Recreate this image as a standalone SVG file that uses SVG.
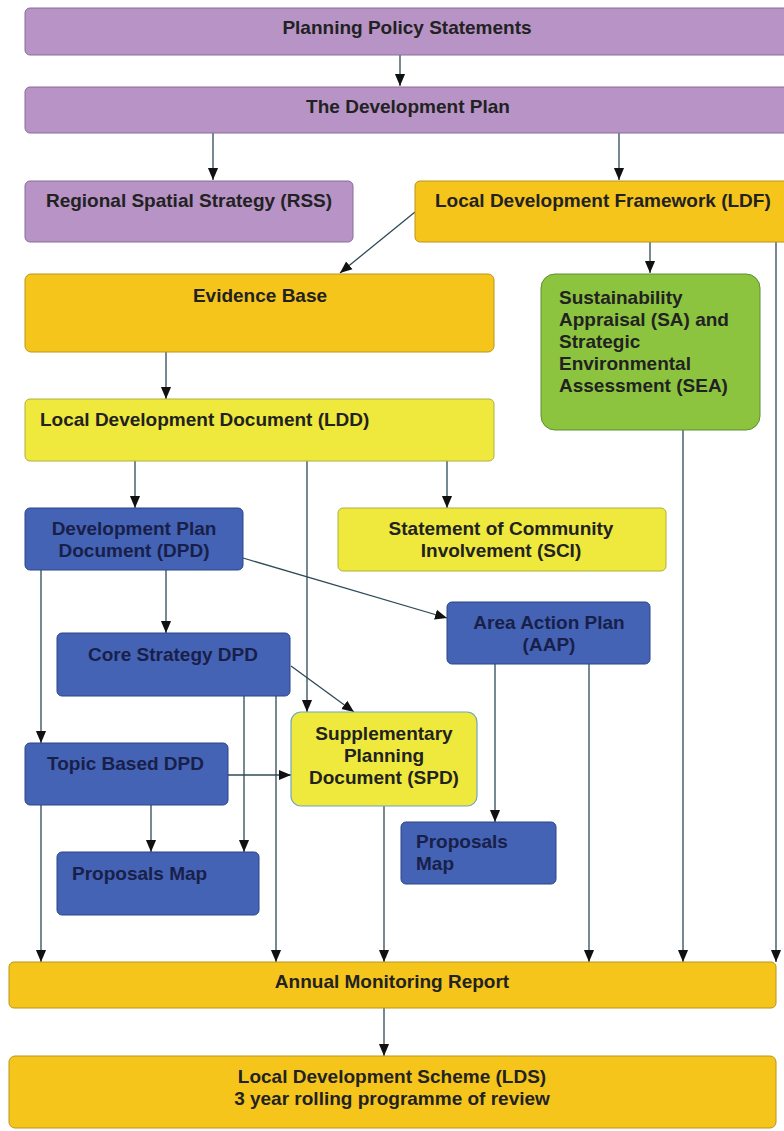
<svg xmlns="http://www.w3.org/2000/svg" width="784" height="1131" viewBox="0 0 784 1131">
<defs>
<marker id="ah" markerUnits="userSpaceOnUse" markerWidth="12" markerHeight="14" viewBox="0 0 13 12" refX="13" refY="6" orient="auto">
<path d="M0,0.5 L13,6 L0,11.5 Z" fill="#111"/>
</marker>
<style>
text{font-family:"Liberation Sans",Arial,sans-serif;font-weight:bold;font-size:19px;fill:#222}
.c{text-anchor:middle}
.bt{fill:#18204a}
.pu{fill:#B793C6;stroke:#8a6a9a;stroke-width:1}
.or{fill:#F5C51B;stroke:#b8961a;stroke-width:1}
.ye{fill:#EEE93C;stroke:#b0ae40;stroke-width:1}
.gr{fill:#8CC440;stroke:#5f8f2c;stroke-width:1}
.bl{fill:#4463B5;stroke:#2c4488;stroke-width:1}
.sp{fill:#EEE93C;stroke:#6fa8b8;stroke-width:1.2}
#edges line{stroke:#2d4a58;stroke-width:1.3;fill:none}
</style>
</defs>
<rect width="784" height="1131" fill="#fff"/>

<g id="edges">
<line x1="400" y1="55" x2="400" y2="86" marker-end="url(#ah)"/>
<line x1="213" y1="133" x2="213" y2="180" marker-end="url(#ah)"/>
<line x1="619" y1="133" x2="619" y2="180" marker-end="url(#ah)"/>
<line x1="415" y1="212" x2="340" y2="273" marker-end="url(#ah)"/>
<line x1="650" y1="242" x2="650" y2="273" marker-end="url(#ah)"/>
<line x1="776" y1="242" x2="776" y2="962" marker-end="url(#ah)"/>
<line x1="166" y1="352" x2="166" y2="399" marker-end="url(#ah)"/>
<line x1="135" y1="461" x2="135" y2="508" marker-end="url(#ah)"/>
<line x1="447" y1="461" x2="447" y2="508" marker-end="url(#ah)"/>
<line x1="307" y1="461" x2="307" y2="712" marker-end="url(#ah)"/>
<line x1="683" y1="430" x2="683" y2="962" marker-end="url(#ah)"/>
<line x1="41" y1="570" x2="41" y2="743" marker-end="url(#ah)"/>
<line x1="166" y1="570" x2="166" y2="633" marker-end="url(#ah)"/>
<line x1="243" y1="558" x2="447" y2="618" marker-end="url(#ah)"/>
<line x1="291" y1="666" x2="354" y2="712" marker-end="url(#ah)"/>
<line x1="244" y1="696" x2="244" y2="852" marker-end="url(#ah)"/>
<line x1="276" y1="696" x2="276" y2="962" marker-end="url(#ah)"/>
<line x1="228" y1="775" x2="291" y2="775" marker-end="url(#ah)"/>
<line x1="151" y1="805" x2="151" y2="852" marker-end="url(#ah)"/>
<line x1="41" y1="805" x2="41" y2="962" marker-end="url(#ah)"/>
<line x1="495" y1="664" x2="495" y2="822" marker-end="url(#ah)"/>
<line x1="589" y1="664" x2="589" y2="962" marker-end="url(#ah)"/>
<line x1="384" y1="806" x2="384" y2="962" marker-end="url(#ah)"/>
<line x1="384" y1="1008" x2="384" y2="1056" marker-end="url(#ah)"/>
</g>

<g id="pps"><rect class="pu" x="25" y="8" width="775" height="47" rx="5"/><text class="c" x="407" y="34">Planning Policy Statements</text></g>
<g id="tdp"><rect class="pu" x="25" y="87" width="775" height="46" rx="5"/><text class="c" x="408" y="113">The Development Plan</text></g>
<g id="rss"><rect class="pu" x="25" y="181" width="328" height="61" rx="5"/><text class="c" x="189" y="207">Regional Spatial Strategy (RSS)</text></g>
<g id="ldf"><rect class="or" x="415" y="181" width="385" height="61" rx="5"/><text x="435" y="207">Local Development Framework (LDF)</text></g>
<g id="eb"><rect class="or" x="25" y="274" width="469" height="78" rx="6"/><text class="c" x="260" y="302">Evidence Base</text></g>
<g id="sa"><rect class="gr" x="541" y="274" width="219" height="156" rx="14"/>
<text x="559" y="304">Sustainability</text>
<text x="559" y="326">Appraisal (SA) and</text>
<text x="559" y="348">Strategic</text>
<text x="559" y="370">Environmental</text>
<text x="559" y="392">Assessment (SEA)</text></g>
<g id="ldd"><rect class="ye" x="25" y="399" width="469" height="62" rx="5"/><text x="40" y="426">Local Development Document (LDD)</text></g>
<g id="dpd"><rect class="bl" x="25" y="508" width="218" height="62" rx="5"/><text class="c bt" x="134" y="535">Development Plan</text><text class="c bt" x="134" y="557">Document (DPD)</text></g>
<g id="sci"><rect class="ye" x="338" y="508" width="328" height="63" rx="5"/><text class="c" x="501" y="535">Statement of Community</text><text class="c" x="501" y="557">Involvement (SCI)</text></g>
<g id="aap"><rect class="bl" x="447" y="602" width="203" height="62" rx="5"/><text class="c bt" x="549" y="629">Area Action Plan</text><text class="c bt" x="549" y="651">(AAP)</text></g>
<g id="core"><rect class="bl" x="57" y="633" width="233" height="63" rx="5"/><text class="c bt" x="173" y="661">Core Strategy DPD</text></g>
<g id="spd"><rect class="sp" x="291" y="712" width="186" height="94" rx="10"/><text class="c" x="384" y="740">Supplementary</text><text class="c" x="384" y="762">Planning</text><text class="c" x="384" y="784">Document (SPD)</text></g>
<g id="topic"><rect class="bl" x="25" y="743" width="203" height="62" rx="5"/><text class="bt" x="47" y="770">Topic Based DPD</text></g>
<g id="pm1"><rect class="bl" x="57" y="852" width="202" height="63" rx="5"/><text class="bt" x="72" y="880">Proposals Map</text></g>
<g id="pm2"><rect class="bl" x="401" y="822" width="155" height="62" rx="5"/><text class="bt" x="416" y="848">Proposals</text><text class="bt" x="416" y="870">Map</text></g>
<g id="amr"><rect class="or" x="9" y="962" width="767" height="46" rx="5"/><text class="c" x="392" y="988">Annual Monitoring Report</text></g>
<g id="lds"><rect class="or" x="9" y="1056" width="767" height="72" rx="6"/><text class="c" x="392" y="1083">Local Development Scheme (LDS)</text><text class="c" x="392" y="1105">3 year rolling programme of review</text></g>
</svg>
